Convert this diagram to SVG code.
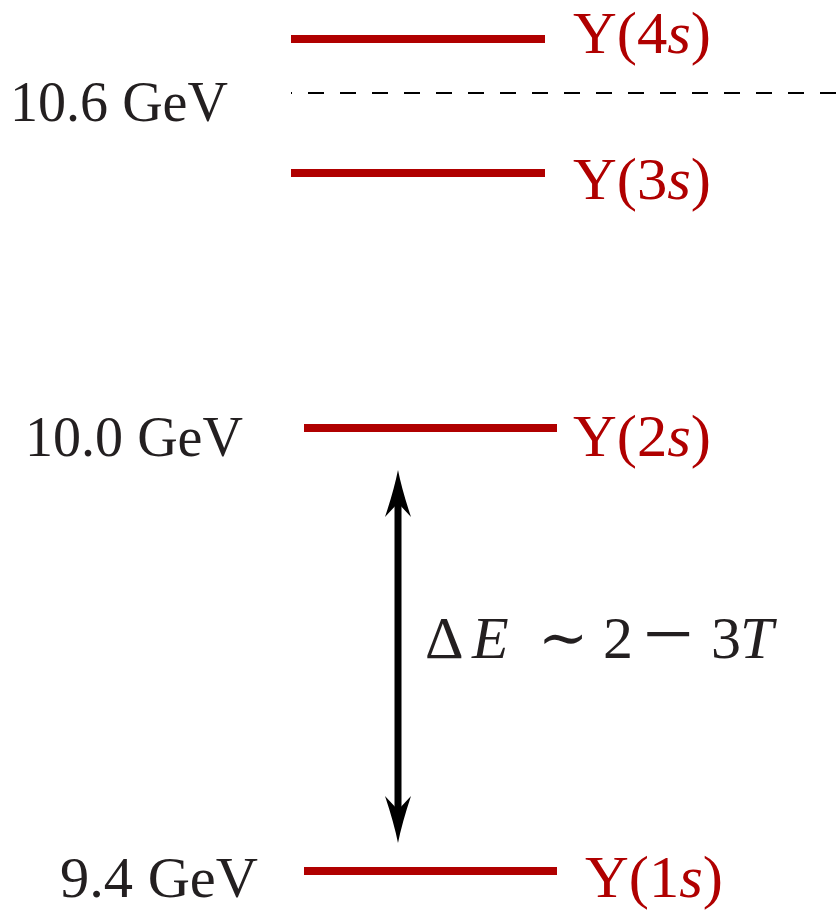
<svg xmlns="http://www.w3.org/2000/svg" width="837" height="913" viewBox="0 0 837 913">
<style>
.lvl{stroke:#b00000;stroke-width:8;fill:none}
.lab{font-family:"Liberation Serif","DejaVu Serif",serif;font-size:60px;fill:#b00000}
.en{font-family:"Liberation Serif","DejaVu Serif",serif;font-size:57px;fill:#231f20}
.it{font-style:italic}
</style>
<rect width="837" height="913" fill="#fff"/>
<g id="level-4s">
<line class="lvl" x1="291" y1="39" x2="545" y2="39"/>
<text class="lab" x="573" y="53" textLength="138" lengthAdjust="spacingAndGlyphs">Υ(4<tspan class="it">s</tspan>)</text>
</g>
<g id="threshold">
<line x1="291" y1="93" x2="837" y2="93" stroke="#000" stroke-width="2" stroke-dasharray="16 16" stroke-dashoffset="15"/>
<text class="en" x="10" y="121" textLength="218" lengthAdjust="spacingAndGlyphs">10.6 GeV</text>
</g>
<g id="level-3s">
<line class="lvl" x1="291" y1="173" x2="545" y2="173"/>
<text class="lab" x="573" y="199" textLength="138" lengthAdjust="spacingAndGlyphs">Υ(3<tspan class="it">s</tspan>)</text>
</g>
<g id="level-2s">
<line class="lvl" x1="304" y1="428" x2="557" y2="428"/>
<text class="lab" x="573" y="456" textLength="138" lengthAdjust="spacingAndGlyphs">Υ(2<tspan class="it">s</tspan>)</text>
<text class="en" x="25" y="456" textLength="218" lengthAdjust="spacingAndGlyphs">10.0 GeV</text>
</g>
<g id="level-1s">
<line class="lvl" x1="304" y1="871" x2="557" y2="871"/>
<text class="lab" x="585" y="897" textLength="138" lengthAdjust="spacingAndGlyphs">Υ(1<tspan class="it">s</tspan>)</text>
<text class="en" x="60" y="897" textLength="198" lengthAdjust="spacingAndGlyphs">9.4 GeV</text>
</g>
<g id="connectors">
<line x1="398" y1="498" x2="398" y2="815" stroke="#000" stroke-width="7"/>
<path d="M398,470 Q402,490 411,517 L398,503 L385,517 Q394,490 398,470 Z" fill="#000"/>
<path d="M398,843 Q402,823 411,796 L398,810 L385,796 Q394,823 398,843 Z" fill="#000"/>
<text class="en" x="425" y="658" style="font-size:60px">Δ<tspan class="it" x="472">E</tspan><tspan x="538">∼</tspan><tspan x="603">2</tspan><tspan x="643" dy="6" style="font-size:90px">−</tspan><tspan x="711" dy="-6">3</tspan><tspan class="it" x="740">T</tspan></text>
</g>
</svg>
